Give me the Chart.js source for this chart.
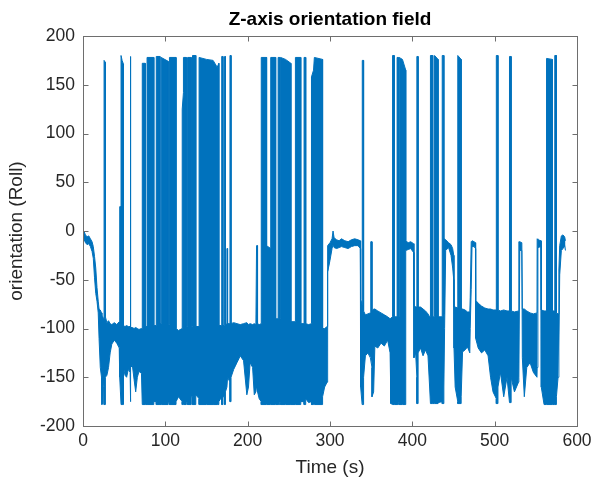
<!DOCTYPE html>
<html>
<head>
<meta charset="utf-8">
<script src="https://cdn.jsdelivr.net/npm/chart.js@4.4.1/dist/chart.umd.min.js"></script>
<style>
  html, body { margin: 0; padding: 0; background: #fff; }
  #wrap { width: 600px; height: 486px; }
</style>
</head>
<body>
<div id="wrap"><canvas id="grafico" width="600" height="486"></canvas></div>
<script>
// Envelope of the roll signal (time in s, degrees)
const time = [
  0, 1.5, 3, 5, 7, 9, 11, 12.5, 14, 15.5,
  17, 18.5, 19.5, 21, 22.5, 23, 24, 25, 25.6, 25.6,
  27.2, 27.2, 29, 31, 33, 35, 38, 41, 44, 44.6,
  44.6, 46.2, 46.2, 47.5, 49.2, 49.2, 51, 53, 55, 57.2,
  57.4, 57.4, 58.2, 58.2, 60, 62, 64, 66, 68, 71,
  72, 72, 75.6, 75.6, 77.8, 77.8, 86, 86, 89, 89,
  93.5, 93.5, 95, 95, 103.5, 103.5, 105, 105, 113, 113,
  116, 120.5, 120.5, 122, 122, 125.5, 125.5, 127, 127, 131.5,
  131.5, 133, 133, 137, 137, 141, 141, 150, 158, 163,
  165, 165, 168.5, 168.5, 170, 170, 172, 172, 173, 173,
  174.8, 174.8, 175.6, 175.6, 178.5, 178.5, 179.8, 179.8, 183, 187,
  191, 195, 199, 201, 203, 206, 208, 210, 210.8, 212,
  212, 214, 216.5, 216.5, 223, 223, 228, 228, 234, 234,
  237, 237, 239, 239, 240, 240, 246, 252.5, 252.5, 258,
  258, 264.5, 264.5, 268.5, 268.5, 270.5, 270.5, 274, 277.5, 277.5,
  280, 281, 291, 291, 293.5, 296.5, 296.8, 297.5, 300, 302.5,
  303.7, 305, 308, 311, 314, 318, 322, 326, 330, 334,
  336.8, 337.2, 339, 339.2, 340.8, 340.8, 343, 346, 349, 349.5,
  351, 351, 353, 354.5, 358, 362, 366, 370, 373, 374,
  376, 376, 378, 378, 381.5, 381.5, 383, 383, 384, 384,
  388, 392, 392, 395, 398, 401.5, 402, 404, 405.5, 405.5,
  407, 407, 410, 413, 416, 419, 421, 422, 422, 424.8,
  424.8, 427, 427, 431.3, 431.3, 436.3, 436.3, 438.3, 438.3, 439.2,
  440.5, 444, 447, 449, 450.3, 450.6, 452, 455.2, 455.2, 459.3,
  459.3, 461, 464, 467, 469.8, 470.3, 471.5, 472.5, 475, 476.7,
  476.9, 480, 484, 488, 492, 495, 498, 502, 502, 504,
  504, 507, 511, 515, 518, 518, 520, 520, 524, 529,
  529.4, 530.5, 533, 533.6, 536, 539, 543, 547, 551.4, 551.6,
  552.5, 556.3, 556.6, 560, 563, 563, 570, 570, 573, 573,
  575, 575, 577, 578, 579, 581, 583, 585, 586
];
const upper = [
  -3, -1, -4, -6, -5, -8, -11, -16, -26, -38,
  -58, -72, -80, -81, -84, -86, -88, -90, -90, 175,
  173, -88, -94, -92, -95, -96, -94, -96, -93, -93,
  25, 25, 180, 175, 171, -97, -98, -97, -98, -98,
  -98, 179, 179, -99, -99, -100, -99, -100, -101, -100,
  -100, 172, 172, -98, -98, 178, 178, -97, -97, 179,
  179, -95, -95, 178, 174, -96, -96, 178, 178, -100,
  -102, -100, 125, 142, 178, 178, -98, -98, 178, 178,
  -98, -98, 180, 180, -98, -98, 178, 176, 175, 168,
  172, -97, -97, 179, 179, -97, -97, 179, 179, -96,
  -95, -18, -18, -95, -95, 180, 180, -95, -94, -95,
  -96, -95, -94, -96, -95, -96, -95, -96, -15, -15,
  -95, -96, -95, 178, 178, -15, -18, 178, 178, -90,
  -90, 178, 178, -90, -90, 178, 176, 172, -93, -93,
  178, 178, -95, -95, 178, 178, -95, -96, -95, 158,
  165, 178, 176, -100, -100, -98, -20, -15, -12, -8,
  0, -7, -9, -10, -8, -10, -11, -9, -8, -9,
  -10, -70, -75, 175, 175, -82, -86, -85, -84, -11,
  -11, -82, -80, -80, -82, -84, -86, -88, -90, -90,
  -88, 180, 180, -88, -88, 178, 178, -88, -88, 178,
  176, 165, -10, -12, -11, -13, -76, -78, -78, 179,
  179, -78, -78, -80, -82, -85, -88, -88, 180, 180,
  -88, -88, 180, 176, -88, -88, 180, 180, -85, -8,
  -9, -12, -14, -18, -25, -78, -78, -79, 180, 176,
  -80, -80, -81, -83, -83, -68, -11, -10, -11, -12,
  -71, -74, -77, -79, -80, -80, -81, -81, 180, 180,
  -81, -82, -81, -82, -82, 179, 179, -82, -83, -82,
  -11, -11, -12, -80, -80, -82, -84, -85, -84, -8,
  -9, -10, -81, -82, -82, 177, 176, -82, -82, 180,
  180, -84, -85, -40, -15, -5, -4, -6, -10
];
const lower = [
  -10, -9, -12, -14, -13, -16, -21, -28, -48, -64,
  -72, -84, -110, -140, -150, -178, -176, -150, -160, -178,
  -178, -150, -148, -140, -125, -116, -112, -115, -120, -130,
  -150, -178, -178, -178, -178, -140, -148, -150, -142, -145,
  -175, -175, -175, -140, -138, -152, -165, -150, -144, -146,
  -178, -178, -178, -178, -178, -178, -178, -175, -175, -178,
  -178, -178, -178, -178, -178, -176, -176, -178, -178, -175,
  -170, -175, -178, -178, -178, -178, -176, -176, -178, -178,
  -170, -170, -178, -178, -168, -172, -178, -178, -178, -178,
  -178, -175, -170, -178, -178, -170, -170, -178, -178, -165,
  -160, -160, -150, -150, -155, -175, -175, -150, -142, -135,
  -128, -133, -168, -160, -135, -140, -168, -165, -160, -160,
  -165, -172, -175, -178, -178, -178, -178, -178, -178, -178,
  -178, -178, -178, -176, -176, -178, -178, -178, -178, -178,
  -178, -178, -175, -175, -178, -178, -172, -176, -175, -178,
  -178, -178, -178, -170, -160, -155, -150, -42, -30, -18,
  -14, -17, -18, -17, -16, -17, -18, -16, -15, -15,
  -18, -160, -178, -178, -178, -150, -128, -125, -130, -130,
  -140, -170, -165, -118, -120, -115, -118, -112, -125, -177,
  -178, -178, -178, -178, -178, -178, -178, -176, -176, -178,
  -178, -178, -20, -19, -18, -22, -130, -125, -150, -177,
  -177, -125, -120, -128, -122, -128, -160, -177, -177, -177,
  -177, -177, -177, -177, -176, -175, -177, -177, -160, -100,
  -20, -17, -25, -38, -50, -120, -160, -175, -177, -177,
  -170, -124, -122, -119, -125, -100, -60, -16, -16, -18,
  -110, -120, -125, -122, -128, -150, -165, -172, -177, -177,
  -160, -145, -170, -150, -176, -176, -176, -150, -165, -155,
  -150, -20, -20, -130, -170, -140, -135, -145, -150, -140,
  -17, -16, -160, -178, -178, -178, -178, -178, -178, -178,
  -178, -170, -150, -120, -45, -20, -18, -15, -20
];
const xTicks = [0, 100, 200, 300, 400, 500, 600];
const yTicks = [-200, -150, -100, -50, 0, 50, 100, 150, 200];
const titulo = 'Z-axis orientation field';

const azul = '#0072BD';
const fonte = '"Liberation Sans", Arial, sans-serif';

// MATLAB-like box with inward tick marks, title centred over the axes
const caixa = {
    id: 'caixa',
    afterDraw(chart) {
        const { ctx, chartArea: a, scales } = chart;
        const L = Math.floor(a.left) + 0.5, R = Math.floor(a.right) + 0.5;
        const T = Math.floor(a.top) + 0.5, B = Math.floor(a.bottom) + 0.5;
        ctx.save();
        ctx.strokeStyle = '#6e6e6e';
        ctx.lineWidth = 1;
        ctx.strokeRect(L, T, R - L, B - T);
        ctx.beginPath();
        xTicks.forEach(v => {
            const px = Math.round(scales.x.getPixelForValue(v)) + 0.5;
            ctx.moveTo(px, B); ctx.lineTo(px, B - 5);
            ctx.moveTo(px, T); ctx.lineTo(px, T + 5);
        });
        yTicks.forEach(v => {
            const py = Math.round(scales.y.getPixelForValue(v)) + 0.5;
            ctx.moveTo(L, py); ctx.lineTo(L + 5, py);
            ctx.moveTo(R, py); ctx.lineTo(R - 5, py);
        });
        ctx.stroke();

        ctx.fillStyle = '#000';
        ctx.font = 'bold 19px ' + fonte;
        ctx.textAlign = 'center';
        ctx.textBaseline = 'middle';
        ctx.fillText(titulo, (a.left + a.right) / 2, 20);
        ctx.restore();
    }
};

new Chart(document.getElementById('grafico'), {
    type: 'line',
    data: {
        datasets: [
            {
                data: time.map((t, i) => ({ x: t, y: upper[i] })),
                borderColor: azul,
                backgroundColor: azul,
                borderWidth: 1,
                pointRadius: 0,
                tension: 0,
                fill: '+1'
            },
            {
                data: time.map((t, i) => ({ x: t, y: lower[i] })),
                borderColor: azul,
                backgroundColor: azul,
                borderWidth: 1,
                pointRadius: 0,
                tension: 0,
                fill: false
            }
        ]
    },
    options: {
        responsive: false,
        animation: false,
        devicePixelRatio: 1,
        layout: { padding: { left: 0, right: 23, top: 36, bottom: 0 } },
        plugins: {
            legend: { display: false },
            tooltip: { enabled: false },
            title: { display: false }
        },
        scales: {
            x: {
                type: 'linear',
                min: 0, max: 600,
                afterBuildTicks: s => { s.ticks = xTicks.map(v => ({ value: v })); },
                afterFit: s => { s.height = 60; },
                grid: { display: false, drawTicks: false },
                border: { display: false },
                ticks: { color: '#262626', padding: 5, maxRotation: 0, font: { family: fonte, size: 17.5 } },
                title: { display: true, text: 'Time (s)', color: '#262626', padding: { top: 0, bottom: 7 }, font: { family: fonte, size: 19 } }
            },
            y: {
                min: -200, max: 200,
                afterBuildTicks: s => { s.ticks = yTicks.map(v => ({ value: v })); },
                afterFit: s => { s.width = 83; },
                grid: { display: false, drawTicks: false },
                border: { display: false },
                ticks: { color: '#262626', padding: 8, font: { family: fonte, size: 17.5 } },
                title: { display: true, text: 'orientation (Roll)', color: '#262626', padding: { top: 5, bottom: 0 }, font: { family: fonte, size: 19 } }
            }
        }
    },
    plugins: [caixa]
});
</script>
</body>
</html>
